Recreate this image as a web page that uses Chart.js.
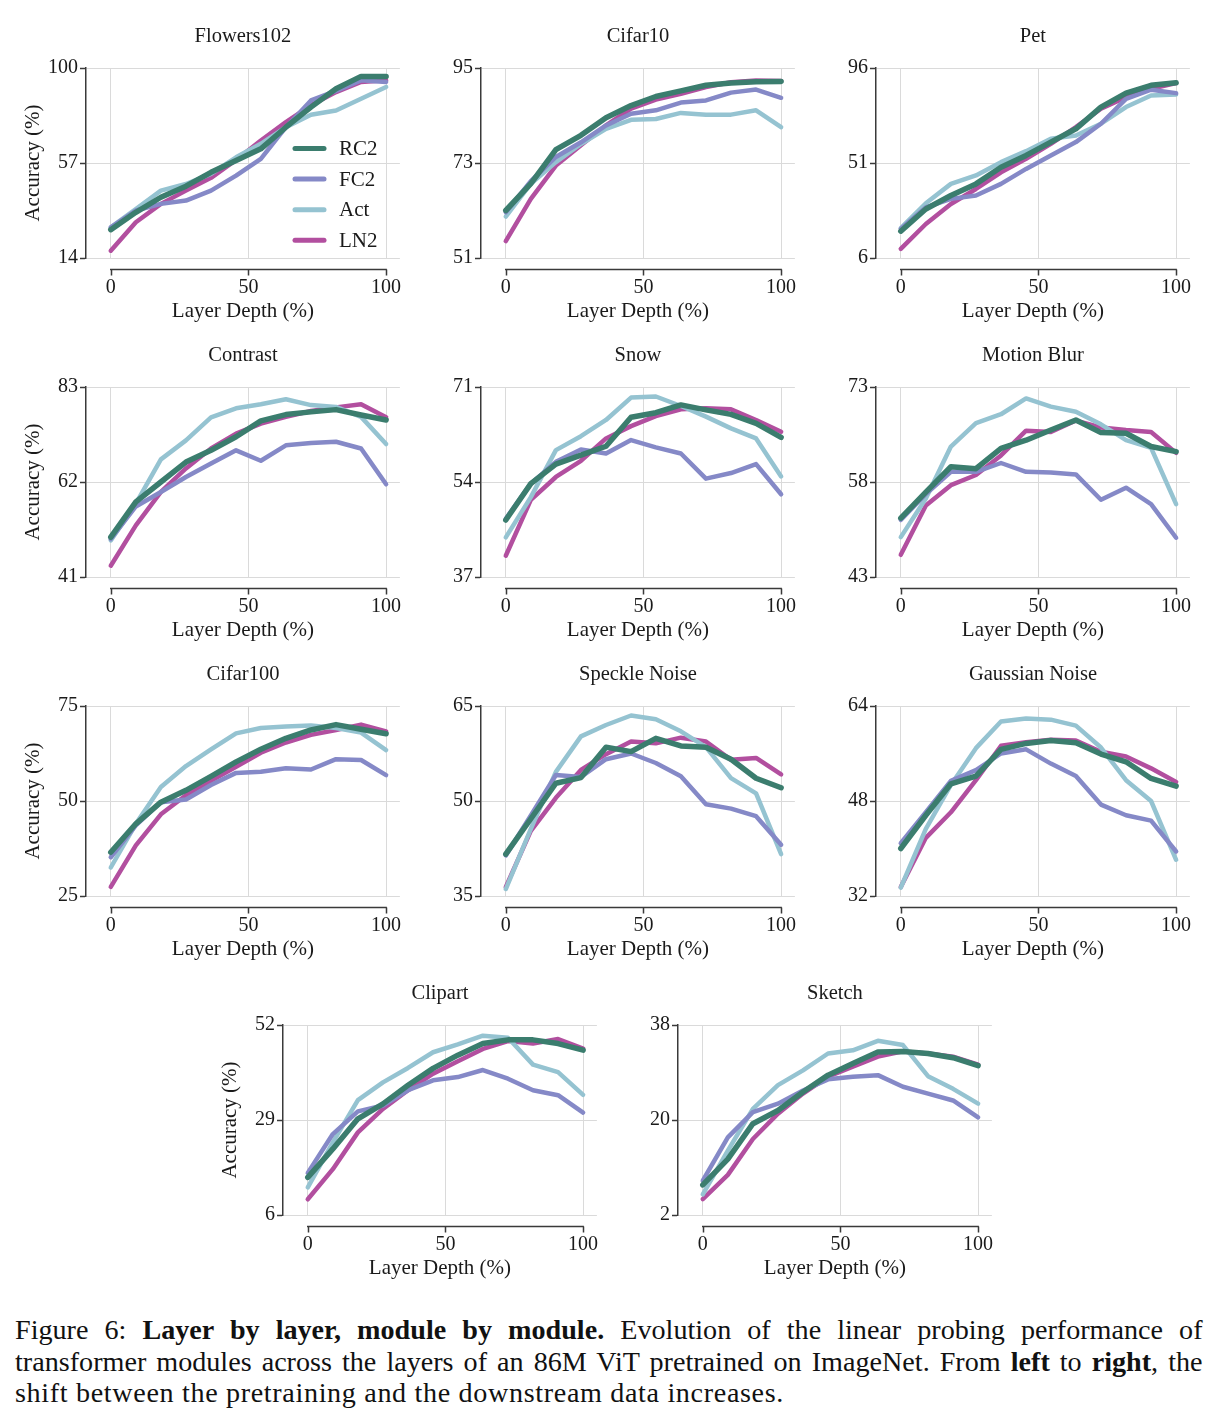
<!DOCTYPE html>
<html><head><meta charset="utf-8">
<script src="https://cdn.jsdelivr.net/npm/chart.js@4.4.1/dist/chart.umd.min.js"></script>
<style>
html,body{margin:0;padding:0;background:#fff;}
#page{position:relative;width:1219px;height:1427px;background:#fff;overflow:hidden;}
canvas.panel{position:absolute;}
#caption{position:absolute;left:15px;top:1315px;width:1131px;transform:scaleX(1.05);transform-origin:0 0;font-family:"Liberation Serif","Times New Roman",serif;font-size:26.8px;line-height:31.5px;color:#111;}
#caption .j{text-align:justify;text-align-last:justify;}
#caption .last{letter-spacing:0.62px;}
</style>
</head><body>
<div id="page">
<div id="caption">
<div class="j">Figure 6: <b>Layer by layer, module by module.</b> Evolution of the linear probing performance of</div>
<div class="j">transformer modules across the layers of an 86M ViT pretrained on ImageNet. From <b>left</b> to <b>right</b>, the</div>
<div class="last">shift between the pretraining and the downstream data increases.</div>
</div>
</div>
<script>
// ---------- data ----------
const depth = [0, 9.1, 18.2, 27.3, 36.4, 45.5, 54.5, 63.6, 72.7, 81.8, 90.9, 100];
const seriesNames = ['RC2', 'FC2', 'Act', 'LN2'];
const xTickValues = [0, 50, 100];

const flowers102Ticks = [14, 57, 100];
const flowers102RC2 = [26.8, 34.7, 41.5, 46.5, 52.8, 58.1, 63.4, 73.2, 82.3, 90.6, 96.2, 96.2];
const flowers102FC2 = [27.9, 35.5, 38.5, 40.0, 44.5, 51.3, 58.9, 73.2, 85.3, 89.6, 94.4, 93.7];
const flowers102Act = [27.9, 36.2, 44.5, 47.5, 52.1, 59.6, 65.7, 73.2, 78.8, 80.8, 86.1, 91.4];
const flowers102LN2 = [17.3, 30.2, 38.5, 44.5, 50.3, 58.4, 67.2, 75.5, 83.1, 89.1, 93.7, 94.4];

const cifar10Ticks = [51, 73, 95];
const cifar10RC2 = [62.0, 68.2, 76.1, 79.4, 83.5, 86.3, 88.4, 89.7, 91.0, 91.5, 91.8, 91.9];
const cifar10FC2 = [61.6, 68.8, 74.4, 77.8, 81.7, 84.4, 85.2, 87.0, 87.5, 89.3, 90.0, 88.1];
const cifar10Act = [60.6, 68.2, 73.2, 77.4, 80.9, 83.0, 83.2, 84.6, 84.2, 84.2, 85.2, 81.3];
const cifar10LN2 = [54.9, 64.7, 72.4, 77.1, 81.7, 85.6, 87.7, 89.0, 90.6, 91.7, 92.1, 92.0];

const petTicks = [6, 51, 96];
const petRC2 = [18.7, 29.2, 35.6, 41.1, 49.0, 54.6, 60.9, 67.2, 77.5, 84.1, 87.8, 89.0];
const petFC2 = [19.8, 30.0, 34.0, 35.6, 41.1, 48.2, 54.6, 60.9, 69.6, 81.4, 85.7, 84.1];
const petAct = [20.2, 31.9, 41.1, 45.1, 51.4, 56.6, 62.5, 64.0, 69.6, 77.5, 83.0, 83.5];
const petLN2 = [10.3, 22.1, 31.6, 38.7, 46.6, 53.0, 60.1, 68.0, 76.7, 82.2, 86.2, 88.9];

const contrastTicks = [41, 62, 83];
const contrastRC2 = [49.8, 57.6, 62.0, 66.4, 69.0, 72.0, 75.5, 76.9, 77.5, 78.0, 76.8, 75.7];
const contrastFC2 = [49.4, 56.6, 59.8, 63.1, 66.1, 69.0, 66.7, 70.1, 70.6, 70.9, 69.4, 61.5];
const contrastAct = [49.1, 57.2, 67.0, 71.2, 76.3, 78.3, 79.2, 80.3, 79.0, 78.6, 76.4, 70.4];
const contrastLN2 = [43.5, 52.4, 59.8, 65.0, 69.4, 72.7, 74.9, 76.4, 77.7, 78.5, 79.2, 76.3];

const snowTicks = [37, 54, 71];
const snowRC2 = [47.2, 53.7, 57.2, 58.8, 60.4, 65.6, 66.4, 67.8, 66.9, 66.1, 64.5, 62.0];
const snowFC2 = [47.4, 53.7, 57.6, 59.8, 59.1, 61.5, 60.2, 59.1, 54.6, 55.6, 57.2, 51.8];
const snowAct = [44.1, 51.3, 59.7, 62.2, 65.1, 69.1, 69.3, 67.6, 65.7, 63.6, 61.8, 55.0];
const snowLN2 = [40.8, 50.8, 54.9, 57.8, 61.8, 64.0, 65.8, 67.0, 67.2, 67.0, 65.1, 63.0];

const motionBlurTicks = [43, 58, 73];
const motionBlurRC2 = [52.3, 56.4, 60.4, 60.1, 63.3, 64.6, 66.2, 67.8, 65.8, 65.7, 63.6, 62.8];
const motionBlurFC2 = [52.0, 56.1, 59.6, 59.6, 61.0, 59.6, 59.5, 59.2, 55.2, 57.1, 54.5, 49.2];
const motionBlurAct = [49.3, 55.4, 63.6, 67.3, 68.7, 71.2, 69.9, 69.1, 67.1, 64.6, 63.4, 54.5];
const motionBlurLN2 = [46.5, 54.3, 57.5, 59.1, 62.2, 66.1, 65.9, 67.7, 66.6, 66.2, 65.9, 62.6];

const cifar100Ticks = [25, 50, 75];
const cifar100RC2 = [36.5, 44.0, 49.7, 52.8, 56.5, 60.3, 63.6, 66.5, 68.7, 70.1, 68.9, 67.7];
const cifar100FC2 = [35.2, 43.6, 49.7, 50.4, 54.2, 57.4, 57.7, 58.6, 58.3, 61.0, 60.8, 56.8];
const cifar100Act = [32.5, 44.0, 53.7, 59.2, 63.6, 67.8, 69.2, 69.6, 69.9, 69.2, 68.0, 63.4];
const cifar100LN2 = [27.4, 38.3, 46.5, 51.5, 55.3, 59.0, 62.7, 65.4, 67.4, 68.7, 70.1, 68.3];

const speckleTicks = [35, 50, 65];
const speckleRC2 = [41.6, 47.2, 52.8, 53.7, 58.5, 57.8, 59.9, 58.7, 58.5, 56.6, 53.6, 52.1];
const speckleFC2 = [41.4, 47.7, 54.1, 53.8, 56.6, 57.5, 56.0, 53.9, 49.5, 48.8, 47.6, 43.1];
const speckleAct = [36.1, 45.6, 54.6, 60.2, 62.0, 63.5, 62.9, 61.0, 58.5, 53.6, 51.2, 41.6];
const speckleLN2 = [36.4, 45.3, 50.5, 54.9, 57.4, 59.4, 59.1, 60.0, 59.4, 56.5, 56.8, 54.2];

const gaussianTicks = [32, 48, 64];
const gaussianRC2 = [40.0, 45.6, 50.9, 52.2, 56.7, 57.7, 58.2, 57.8, 55.9, 54.6, 51.8, 50.5];
const gaussianFC2 = [40.9, 46.1, 51.4, 53.2, 56.0, 56.7, 54.3, 52.2, 47.4, 45.6, 44.7, 39.5];
const gaussianAct = [33.4, 43.3, 50.7, 56.9, 61.4, 61.9, 61.7, 60.7, 57.0, 51.5, 48.0, 38.1];
const gaussianLN2 = [33.5, 41.8, 46.1, 51.5, 57.3, 57.9, 58.3, 58.2, 56.3, 55.5, 53.5, 51.2];

const clipartTicks = [6, 29, 52];
const clipartRC2 = [15.1, 22.0, 29.3, 32.9, 37.4, 41.5, 44.7, 47.5, 48.4, 48.4, 47.5, 45.9];
const clipartFC2 = [16.2, 25.6, 31.1, 32.5, 36.2, 38.6, 39.4, 41.1, 39.0, 36.2, 35.0, 30.8];
const clipartAct = [12.7, 23.6, 33.8, 38.1, 41.6, 45.4, 47.3, 49.4, 48.9, 42.4, 40.6, 35.1];
const clipartLN2 = [9.8, 17.1, 26.0, 31.7, 36.2, 40.2, 43.2, 46.2, 48.1, 47.5, 48.6, 46.3];

const sketchTicks = [2, 20, 38];
const sketchRC2 = [7.7, 12.6, 19.3, 21.8, 25.3, 28.5, 30.7, 32.9, 33.0, 32.6, 31.8, 30.3];
const sketchFC2 = [8.5, 16.7, 21.5, 23.1, 25.6, 27.7, 28.2, 28.5, 26.3, 25.0, 23.7, 20.5];
const sketchAct = [5.9, 14.2, 22.1, 26.6, 29.4, 32.6, 33.2, 35.0, 34.2, 28.3, 25.9, 23.1];
const sketchLN2 = [5.0, 9.6, 16.4, 21.2, 25.0, 28.2, 30.1, 32.0, 33.0, 32.6, 32.0, 30.5];

// ---------- styles / layout ----------
const FONT = '"Liberation Serif","Times New Roman",serif';
const TEXT = '#1a1a1a';
const GRID = '#dadada';
const SPINE = '#3a3a3a';
const seriesColors = ['#3b7d6e', '#8589c7', '#95c3d1', '#b24f9f'];
const seriesWidths = [5.5, 4.5, 4.5, 4.5];

const panels = [
  {title: 'Flowers102', ticks: flowers102Ticks, series: [flowers102RC2, flowers102FC2, flowers102Act, flowers102LN2], spineX: 86, top: 68, yLabel: true, legend: true},
  {title: 'Cifar10', ticks: cifar10Ticks, series: [cifar10RC2, cifar10FC2, cifar10Act, cifar10LN2], spineX: 481, top: 68},
  {title: 'Pet', ticks: petTicks, series: [petRC2, petFC2, petAct, petLN2], spineX: 876, top: 68},
  {title: 'Contrast', ticks: contrastTicks, series: [contrastRC2, contrastFC2, contrastAct, contrastLN2], spineX: 86, top: 387, yLabel: true},
  {title: 'Snow', ticks: snowTicks, series: [snowRC2, snowFC2, snowAct, snowLN2], spineX: 481, top: 387},
  {title: 'Motion Blur', ticks: motionBlurTicks, series: [motionBlurRC2, motionBlurFC2, motionBlurAct, motionBlurLN2], spineX: 876, top: 387},
  {title: 'Cifar100', ticks: cifar100Ticks, series: [cifar100RC2, cifar100FC2, cifar100Act, cifar100LN2], spineX: 86, top: 706, yLabel: true},
  {title: 'Speckle Noise', ticks: speckleTicks, series: [speckleRC2, speckleFC2, speckleAct, speckleLN2], spineX: 481, top: 706},
  {title: 'Gaussian Noise', ticks: gaussianTicks, series: [gaussianRC2, gaussianFC2, gaussianAct, gaussianLN2], spineX: 876, top: 706},
  {title: 'Clipart', ticks: clipartTicks, series: [clipartRC2, clipartFC2, clipartAct, clipartLN2], spineX: 283, top: 1025, yLabel: true},
  {title: 'Sketch', ticks: sketchTicks, series: [sketchRC2, sketchFC2, sketchAct, sketchLN2], spineX: 678, top: 1025}
];

const LEFT_W = 75, TOP_H = 50, BOTTOM_H = 70, PLOT_W = 319, PLOT_H = 190, RIGHT_PAD = 15;

// offset, trimmed x spine (seaborn despine style)
const xSpine = {
  id: 'xSpine',
  afterDraw(chart) {
    const {ctx, chartArea, scales} = chart;
    const x = scales.x;
    const y0 = Math.round(chartArea.bottom + 11) + 0.5;
    ctx.save();
    ctx.strokeStyle = SPINE;
    ctx.lineWidth = 1.5;
    ctx.lineCap = 'butt';
    ctx.beginPath();
    ctx.moveTo(x.getPixelForValue(xTickValues[0]) - 0.75, y0);
    ctx.lineTo(x.getPixelForValue(xTickValues[xTickValues.length - 1]) + 0.75, y0);
    xTickValues.forEach(v => {
      const px = Math.round(x.getPixelForValue(v)) + 0.5;
      ctx.moveTo(px, y0);
      ctx.lineTo(px, y0 + 6);
    });
    ctx.stroke();
    ctx.restore();
  }
};

const insideLegend = {
  id: 'insideLegend',
  afterDatasetsDraw(chart) {
    const {ctx, chartArea: a} = chart;
    ctx.save();
    chart.data.datasets.forEach((ds, i) => {
      const y = a.top + 80.5 + i * 30.6;
      ctx.strokeStyle = ds.borderColor;
      ctx.lineWidth = 5;
      ctx.lineCap = 'round';
      ctx.beginPath();
      ctx.moveTo(a.left + 209, y);
      ctx.lineTo(a.left + 238, y);
      ctx.stroke();
      ctx.fillStyle = TEXT;
      ctx.font = '21px ' + FONT;
      ctx.textBaseline = 'middle';
      ctx.textAlign = 'left';
      ctx.fillText(ds.label, a.left + 253, y + 1);
    });
    ctx.restore();
  }
};

const page = document.getElementById('page');

panels.forEach(p => {
  const cv = document.createElement('canvas');
  cv.className = 'panel';
  const w = LEFT_W + PLOT_W + RIGHT_PAD, h = TOP_H + PLOT_H + BOTTOM_H;
  cv.width = w; cv.height = h;
  cv.style.width = w + 'px'; cv.style.height = h + 'px';
  cv.style.left = (p.spineX - LEFT_W) + 'px';
  cv.style.top = (p.top - TOP_H) + 'px';
  page.appendChild(cv);

  const datasets = seriesNames.map((name, i) => ({
    label: name,
    data: depth.map((d, j) => ({x: d, y: p.series[i][j]})),
    borderColor: seriesColors[i],
    backgroundColor: seriesColors[i],
    borderWidth: seriesWidths[i],
    pointRadius: 0,
    tension: 0,
    fill: false,
    borderCapStyle: 'round',
    borderJoinStyle: 'round'
  }));

  new Chart(cv, {
    type: 'line',
    data: {datasets},
    options: {
      responsive: false,
      animation: false,
      devicePixelRatio: 1,
      layout: {padding: {left: 0, right: RIGHT_PAD, top: 0, bottom: 0}},
      plugins: {
        legend: {display: false},
        tooltip: {enabled: false},
        title: {
          display: true, text: p.title, fullSize: false,
          font: {family: FONT, size: 20.5, weight: 'normal'}, color: TEXT,
          padding: {top: 6, bottom: 19.4}
        }
      },
      scales: {
        x: {
          type: 'linear', min: -9, max: 105,
          afterBuildTicks: s => { s.ticks = xTickValues.map(v => ({value: v})); },
          afterFit: s => { s.height = BOTTOM_H; },
          grid: {color: GRID, lineWidth: 1, drawTicks: false},
          border: {display: false},
          ticks: {font: {family: FONT, size: 20}, color: TEXT, padding: 18, maxRotation: 0, autoSkip: false},
          title: {display: true, text: 'Layer Depth (%)', font: {family: FONT, size: 21}, color: TEXT, padding: {top: 0, bottom: 4}}
        },
        y: {
          type: 'linear', min: p.ticks[0], max: p.ticks[2],
          afterBuildTicks: s => { s.ticks = p.ticks.map(v => ({value: v})); },
          afterFit: s => { s.width = LEFT_W; },
          grid: {color: GRID, lineWidth: 1, drawTicks: true, tickLength: 6, tickColor: SPINE, tickWidth: 1.5},
          border: {display: true, color: SPINE, width: 1.5},
          ticks: {font: {family: FONT, size: 20}, color: TEXT, padding: 2, autoSkip: false},
          title: {display: !!p.yLabel, text: 'Accuracy (%)', font: {family: FONT, size: 21}, color: TEXT, padding: {top: 10, bottom: 0}}
        }
      }
    },
    plugins: p.legend ? [xSpine, insideLegend] : [xSpine]
  });
});
</script>
</body></html>
